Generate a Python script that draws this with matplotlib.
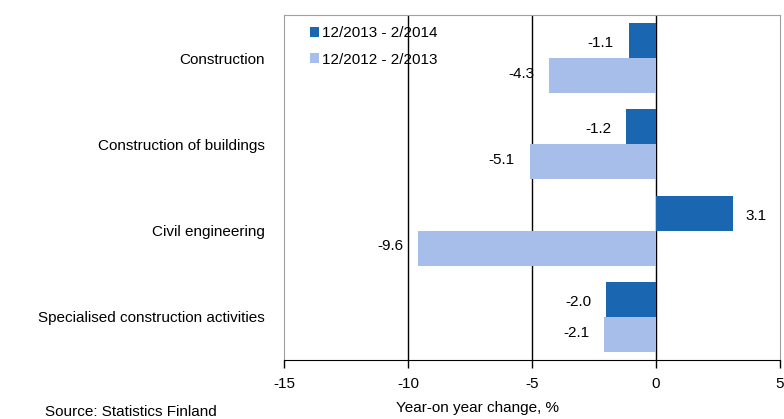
import numpy as np
import matplotlib.pyplot as plt

plt.rcParams['font.family'] = ['Liberation Sans', 'DejaVu Sans']

categories = ['Construction', 'Construction of buildings', 'Civil engineering',
              'Specialised construction activities']
recent = [-1.1, -1.2, 3.1, -2.0]
previous = [-4.3, -5.1, -9.6, -2.1]
series_names = ['12/2013 - 2/2014', '12/2012 - 2/2013']
DARK = '#1a66b0'
LIGHT = '#a7bdea'
FS = 11

fig = plt.figure(figsize=(7.84, 4.19), dpi=100)
ax = fig.add_axes([0.3622, 0.1408, 0.6327, 0.8234])

y = np.arange(len(categories))
h = 0.407
ax.barh(y - h / 2, recent, height=h, color=DARK, label=series_names[0], zorder=3)
ax.barh(y + h / 2, previous, height=h, color=LIGHT, label=series_names[1], zorder=3)

for i in range(len(categories)):
    for val, off in [(recent[i], -h / 2 + 0.03), (previous[i], h / 2 - 0.02)]:
        if val >= 0:
            ax.text(val + 0.5, y[i] + off, '%.1f' % val, ha='left', va='center', fontsize=FS)
        else:
            ax.text(val - 0.6, y[i] + off, '%.1f' % val, ha='right', va='center', fontsize=FS)

ax.set_xlim(-15, 5)
ax.set_ylim(3.5, -0.5)
ax.set_xticks([-15, -10, -5, 0, 5])
ax.set_xticklabels(['-15', '-10', '-5', '0', '5'], fontsize=FS)
ax.set_yticks(y)
ax.set_yticklabels(categories, fontsize=FS)
ax.tick_params(axis='y', length=0, pad=14)
ax.tick_params(axis='x', length=6, width=1, direction='out', pad=6)

for xv in [-10, -5, 0]:
    ax.axvline(xv, color='black', lw=1, zorder=2)

for s in ['top', 'left', 'right']:
    ax.spines[s].set_color('#a0a0a0')
ax.spines['bottom'].set_color('black')

ax.set_xlabel('Year-on year change, %', fontsize=FS)
ax.xaxis.set_label_coords(0.39, -0.12)
fig.text(0.058, 0.0, 'Source: Statistics Finland', fontsize=FS, ha='left', va='bottom')

leg = ax.legend(loc='upper left', bbox_to_anchor=(0.03, 1.0), frameon=False, fontsize=FS,
                handlelength=0.6, handleheight=0.6, handletextpad=0.15, labelspacing=0.8,
                borderaxespad=0.35)

fig.savefig('out.png', dpi=100)
